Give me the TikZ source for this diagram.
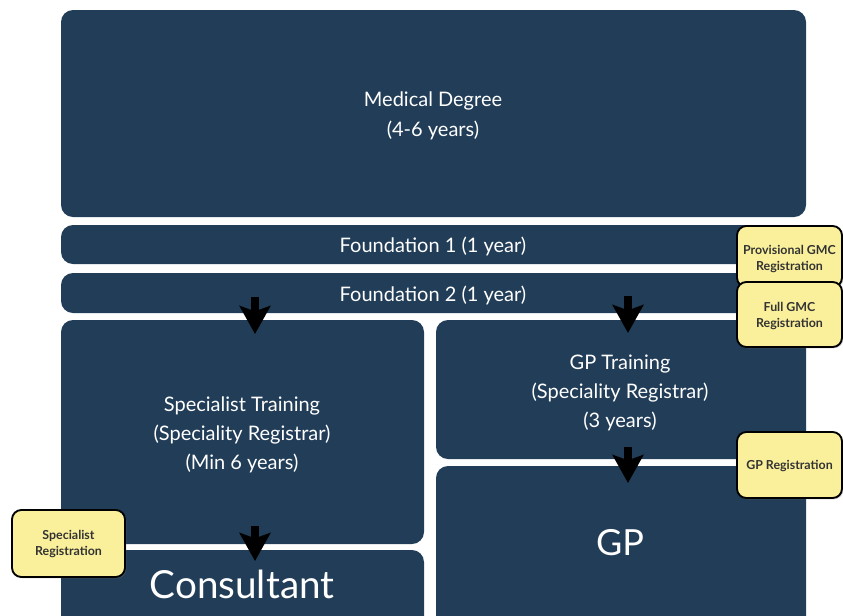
\documentclass[tikz,border=0pt]{standalone}
\usepackage{fontspec}
\setmainfont{Lato}
\usetikzlibrary{arrows.meta,shadows}
\definecolor{navy}{RGB}{33,61,87}
\definecolor{pale}{RGB}{250,240,155}
\begin{document}
\begin{tikzpicture}[x=0.75pt,y=-0.75pt,
  blk/.style={fill=navy,rounded corners=9pt},
  lbl/.style={text=white,align=center,font=\fontsize{15}{19}\selectfont,inner sep=0pt},
  tag/.style={draw=black,line width=1.4pt,fill=pale,rounded corners=7pt,
    drop shadow={shadow xshift=1pt,shadow yshift=-1pt,opacity=0.35}},
  taglbl/.style={align=center,font=\bfseries\fontsize{9.3}{11.5}\selectfont,text=black!80,inner sep=0pt},
  down/.style={line width=6pt,-{Stealth[width=23pt,length=21pt,inset=4pt]}}]
\useasboundingbox (0,0) rectangle (843,615);
% navy blocks
\fill[blk] (61,10) rectangle (806,217);
\fill[blk] (61,225) rectangle (806,264);
\fill[blk] (61,273) rectangle (806,313);
\fill[blk] (61,320) rectangle (424,544);
\fill[blk] (61,550) rectangle (424,630);
\fill[blk] (436,320) rectangle (806,459);
\fill[blk] (436,466) rectangle (806,630);
% labels
\node[lbl] (md) at (433,116) {Medical Degree\\[3pt](4-6 years)};
\node[lbl] (f1) at (433,246) {Foundation 1 (1 year)};
\node[lbl] (f2) at (433,295) {Foundation 2 (1 year)};
\node[lbl] (st) at (242,435) {Specialist Training\\[3pt](Speciality Registrar)\\[3pt](Min 6 years)};
\node[lbl] (gt) at (620,393) {GP Training\\[3pt](Speciality Registrar)\\[3pt](3 years)};
\node[lbl,font=\fontsize{29}{34}\selectfont] (cons) at (242,584) {Consultant};
\node[lbl,font=\fontsize{27}{30}\selectfont] (gp) at (620,543) {GP};
% arrows
\coordinate (a1s) at (255,297); \coordinate (a1e) at (255,334);
\coordinate (a2s) at (628,296); \coordinate (a2e) at (628,333);
\coordinate (a3s) at (255,526); \coordinate (a3e) at (255,561);
\coordinate (a4s) at (628,447); \coordinate (a4e) at (628,483);
\draw[down] (a1s) -- (a1e);
\draw[down] (a2s) -- (a2e);
\draw[down] (a3s) -- (a3e);
\draw[down] (a4s) -- (a4e);
% yellow tags
\draw[tag] (737,226) rectangle (842,287);
\node[taglbl] (pg) at (789.5,259) {Provisional GMC\\Registration};
\draw[tag] (737,282) rectangle (842,347);
\node[taglbl] (fg) at (789.5,316) {Full GMC\\Registration};
\draw[tag] (737,432) rectangle (842,498);
\node[taglbl] (gr) at (789.5,466) {GP Registration};
\draw[tag] (12,510) rectangle (125,577);
\node[taglbl] (sr) at (68.5,544) {Specialist\\Registration};
\end{tikzpicture}
\end{document}
